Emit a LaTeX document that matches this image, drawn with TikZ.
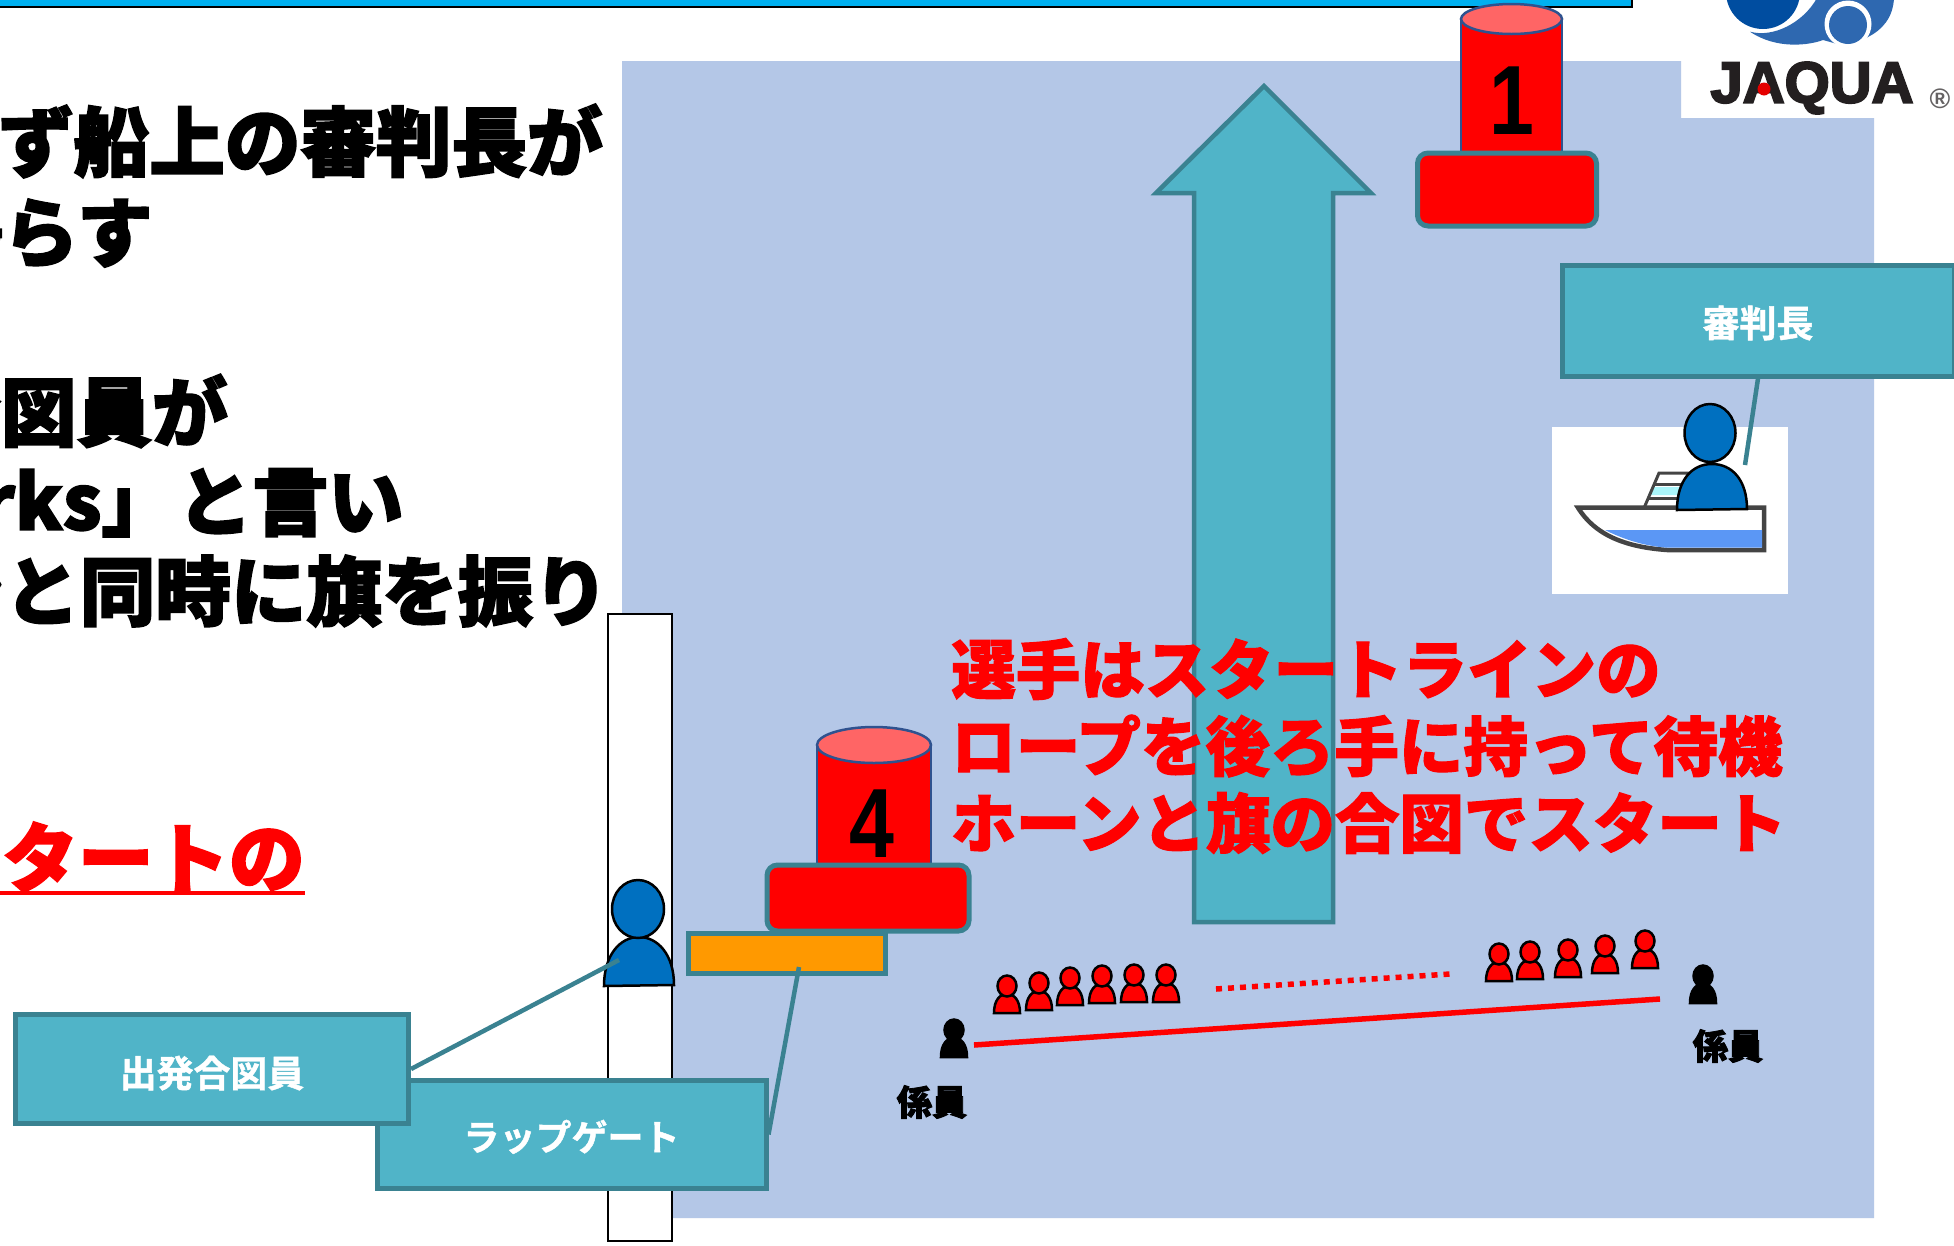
\documentclass[tikz,border=0pt]{standalone}
\usepackage{fontspec}
\setmainfont{Liberation Sans}
\newfontfamily\jpheavy[FakeBold=2.4]{Noto Sans CJK JP Black}
\newfontfamily\jpred[FakeBold=1.8]{Noto Sans CJK JP Black}
\newfontfamily\jpbold[FakeBold=1.2]{Noto Sans CJK JP Bold}
\newfontfamily\logofont[FakeBold=3.5]{Liberation Sans Bold}
\definecolor{water}{HTML}{B4C7E7}
\definecolor{teal}{HTML}{3A8291}
\definecolor{tealfill}{HTML}{50B4C8}
\definecolor{bar}{HTML}{00B0F0}
\definecolor{staff}{HTML}{0070C0}
\definecolor{buoytop}{HTML}{FF6565}
\definecolor{buoyline}{HTML}{2F528F}
\definecolor{gate}{HTML}{FF9900}
\definecolor{logodark}{HTML}{004DA0}
\definecolor{logomid}{HTML}{2E68B0}
\definecolor{logotext}{HTML}{231F20}
\definecolor{boatline}{HTML}{444444}
\definecolor{boatblue}{HTML}{5B97F5}
\definecolor{boatglass}{HTML}{AAF5FA}
\newcommand{\pxu}{0.02cm}
\tikzset{
  x=0.02cm,y=-0.02cm,
  px/.style={line width=#1*0.569pt},
  labelbox/.style={draw=teal,fill=tealfill,px=5,minimum width=#1,inner sep=0pt,text=white,text depth=2.5pt,font=\jpbold\fontsize{21}{21}\selectfont},
  leader/.style={draw=teal,px=4.5},
  bodytext/.style={inner sep=0pt,font=\jpheavy\fontsize{43}{43}\selectfont},
  redtext/.style={inner sep=0pt,text=red,anchor=west,font=\jpred\fontsize{36.7}{36.7}\selectfont},
  kakari/.style={inner sep=0pt,font=\jpheavy\fontsize{20}{20}\selectfont},
  buoyno/.style={inner sep=0pt,xscale=0.82,transform shape,font=\bfseries\fontsize{56}{56}\selectfont},
  buoybase/.style={draw=teal,fill=red,px=5,rounded corners=6pt},
  cylbody/.style={draw=buoyline,fill=red,px=2.5},
  cyltop/.style={draw=buoyline,fill=buoytop,px=2.5},
  personshape/.style={draw=black,fill=#1,px=2.5},
  smallp/.pic={
    \filldraw[personshape=#1] (-13,0) .. controls (-13,-13) and (-7,-19) .. (0,-19) .. controls (7,-19) and (13,-13) .. (13,0) -- cycle;
    \filldraw[personshape=#1] (0,-27) ellipse [x radius=9.5,y radius=10.5];
  }
}
\begin{document}
\begin{tikzpicture}
\useasboundingbox (0,0) rectangle (1954,1245);
\clip (0,0) rectangle (1954,1245);
\fill[white] (0,0) rectangle (1954,1245);
% top bar
\filldraw[fill=bar,draw=black,px=2] (-5,-5) rectangle (1632,7);
% water
\fill[water] (622,61) -- (1681,61) -- (1681,118) -- (1874,118) -- (1874,1218) -- (622,1218) -- cycle;
% logo
\fill[logodark] (1763,-8) circle [radius=37];
\fill[logomid] (1750,31.7) .. controls (1773,38) and (1803,23) .. (1817,-2) -- (1894,-2) .. controls (1893,18) and (1882,30) .. (1868,37) -- (1848,47) -- (1823,40) .. controls (1810,45) and (1777,50) .. (1750,31.7) -- cycle;
\fill[white] (1848,24) circle [radius=23.5];
\fill[logomid] (1848,25) circle [radius=19];
\node[inner sep=0pt,text=logotext,font=\logofont\fontsize{33}{33}\selectfont] (jaqua) at (1812,88) {JAQUA};
\fill[red!90!black] (1764,89) circle [radius=6.5];
\node[inner sep=0pt,text=logotext!70,font=\bfseries\fontsize{16}{16}\selectfont] (reg) at (1940,99) {®};
% arrow
\filldraw[draw=teal,fill=tealfill,px=4.5,line join=miter] (1264,86) -- (1371,193) -- (1333,193) -- (1333,922) -- (1194,922) -- (1194,193) -- (1156,193) -- cycle;
% buoy 1
\path[cylbody] (1461,19) -- (1461,152) -- (1562,152) -- (1562,19) -- cycle;
\path[cyltop] (1511.5,19) ellipse [x radius=50.5,y radius=15];
\node[buoyno] (no1) at (1512,101) {1};
\node[buoybase,minimum width=179*\pxu,minimum height=73*\pxu,inner sep=0pt] (base1) at (1507,189.5) {};
% judge
\fill[white] (1552,427) rectangle (1788,594);
\fill[boatglass] (1652,487) -- (1695,487) -- (1695,495) -- (1648,495) -- cycle;
\draw[boatline,px=3] (1644,508) -- (1659,473) -- (1695,473);
\draw[boatline,px=3] (1655,484) -- (1695,484);
\draw[boatline,px=3] (1648,498) -- (1695,498);
\filldraw[draw=boatline,fill=white,px=4.5,line join=miter] (1578,507.7) -- (1764,507.7) -- (1764,550) -- (1667,550) .. controls (1625,547) and (1595,535) .. (1578,507.7) -- cycle;
\fill[boatblue] (1605,530) -- (1762,530) -- (1762,547.7) -- (1667,547.7) .. controls (1645,546) and (1625,540) .. (1605,530) -- cycle;
\filldraw[personshape=staff] (1677,510) .. controls (1677,480) and (1692,464) .. (1712,464) .. controls (1732,464) and (1747,480) .. (1747,509) -- cycle;
\filldraw[personshape=staff] (1710,433) ellipse [x radius=25.5,y radius=29];
\node[labelbox=392*\pxu,minimum height=111*\pxu,text height=21.3pt] (shinpan) at (1758,320.5) {審判長};
\coordinate (judge) at (1745,465);
\draw[leader] (shinpan.south) -- (judge);
% pontoon and starter
\filldraw[fill=white,draw=black,px=2.5] (608,614) rectangle (672,1241);
\filldraw[personshape=staff] (604,986) .. controls (604,955) and (620,937) .. (639,937) .. controls (658,937) and (674,955) .. (674,985) -- cycle;
\filldraw[personshape=staff] (638,909) ellipse [x radius=26,y radius=29];
% buoy 4
\path[cylbody] (817,745) -- (817,866) -- (931,866) -- (931,745) -- cycle;
\path[cyltop] (874,745) ellipse [x radius=57,y radius=18];
\node[buoyno] (no4) at (872,824) {4};
\node[inner sep=0pt,draw=teal,fill=gate,px=5,minimum width=197*\pxu,minimum height=40*\pxu] (gate) at (787,953) {};
\node[buoybase,minimum width=202*\pxu,minimum height=66*\pxu,inner sep=0pt] (base4) at (868,898) {};
% boxes
\node[labelbox=389*\pxu,minimum height=108*\pxu,text height=20.8pt,font=\jpbold\fontsize{20.5}{20.5}\selectfont] (lapgate) at (571.5,1134.5) {ラップゲート};
\node[labelbox=393*\pxu,minimum height=109*\pxu,text height=23pt] (shuppatsu) at (212,1069) {出発合図員};
\coordinate (starter) at (619,960);
\coordinate (gatept) at (799,967);
\draw[leader] (shuppatsu.east) -- (starter);
\draw[leader] (lapgate.east) -- (gatept);
% text
\node[bodytext,anchor=east] (t1) at (603,141) {まず船上の審判長が};
\node[bodytext,anchor=east] (t2) at (153,232) {鳴らす};
\node[bodytext,anchor=east] (t3) at (228,411) {合図員が};
\node[bodytext,anchor=east] (t4) at (404,501) {「Two marks」と言い};
\node[bodytext,anchor=east] (t5) at (609,591) {ホーンと同時に旗を振り};
\node[bodytext,anchor=east,text=red] (t6) at (305,857) {スタートの};
\draw[red,px=4] (0,893) -- (305,893);
\node[redtext] (r1) at (951,669) {選手はスタートラインの};
\node[redtext] (r2) at (951,746) {ロープを後ろ手に持って待機};
\node[redtext] (r3) at (951,823) {ホーンと旗の合図でスタート};
% start line
\coordinate (lineA) at (974,1045);
\coordinate (lineB) at (1660,999);
\draw[red,px=5.5] (lineA) -- (lineB);
\coordinate (dotA) at (1216,989);
\coordinate (dotB) at (1450,974);
\draw[red,px=5.5,dash pattern=on 6*0.569pt off 6*0.569pt] (dotA) -- (dotB);
\foreach \x/\y in {1007/1013,1039/1010,1070/1005,1102/1003,1134/1002,1166/1002,1499/981,1530/979,1568/977,1605/973,1645/968}
  \pic at (\x,\y) {smallp=red};
\foreach \x/\y in {954/1057,1703/1003}
  \pic at (\x,\y) {smallp=black};
\node[kakari] (k1) at (932,1102) {係員};
\node[kakari] (k2) at (1728,1046) {係員};
\end{tikzpicture}
\end{document}
